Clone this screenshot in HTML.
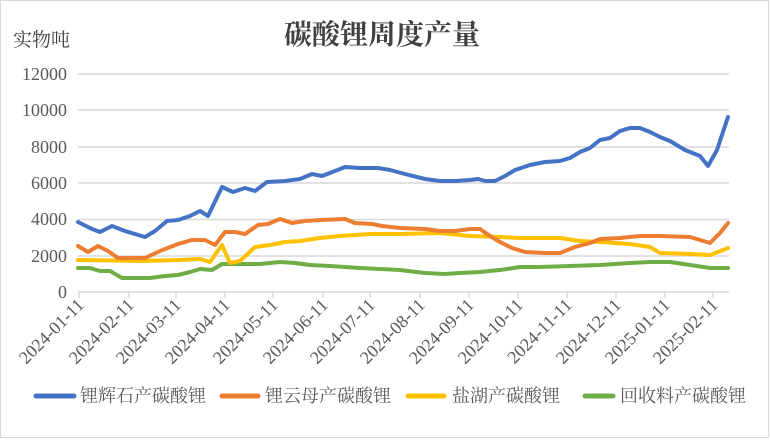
<!DOCTYPE html>
<html><head><meta charset="utf-8"><style>
body{margin:0;background:#fff;}
svg{display:block;font-family:"Liberation Serif","Noto Serif CJK SC",serif;}
</style></head><body>
<svg width="770" height="440" viewBox="0 0 770 440">
<rect x="0.5" y="0.5" width="768" height="437" fill="#fff" stroke="#d9d9d9"/>
<text x="382" y="44" text-anchor="middle" font-size="28" font-weight="bold" fill="#404040">碳酸锂周度产量</text>
<text x="13" y="46" font-size="19" fill="#404040">实物吨</text>
<g stroke="#d9d9d9" stroke-width="1.5">
<line x1="78" y1="74" x2="729" y2="74"/><line x1="78" y1="110" x2="729" y2="110"/>
<line x1="78" y1="147" x2="729" y2="147"/><line x1="78" y1="183" x2="729" y2="183"/>
<line x1="78" y1="219.5" x2="729" y2="219.5"/><line x1="78" y1="256" x2="729" y2="256"/>
<line x1="78" y1="292" x2="729" y2="292"/>
<line x1="79" y1="292" x2="79" y2="298"/><line x1="129" y1="292" x2="129" y2="298"/>
<line x1="176" y1="292" x2="176" y2="298"/><line x1="225" y1="292" x2="225" y2="298"/>
<line x1="273" y1="292" x2="273" y2="298"/><line x1="323" y1="292" x2="323" y2="298"/>
<line x1="370" y1="292" x2="370" y2="298"/><line x1="420" y1="292" x2="420" y2="298"/>
<line x1="469" y1="292" x2="469" y2="298"/><line x1="518" y1="292" x2="518" y2="298"/>
<line x1="567" y1="292" x2="567" y2="298"/><line x1="616" y1="292" x2="616" y2="298"/>
<line x1="665" y1="292" x2="665" y2="298"/><line x1="713" y1="292" x2="713" y2="298"/>
</g>
<g font-size="18" fill="#595959" text-anchor="end">
<text x="67" y="80">12000</text><text x="67" y="116">10000</text><text x="67" y="153">8000</text>
<text x="67" y="189">6000</text><text x="67" y="225">4000</text><text x="67" y="262">2000</text>
<text x="67" y="298">0</text>
</g>
<g font-size="18" fill="#595959" text-anchor="end">
<text transform="translate(85,306) rotate(-45)">2024-01-11</text>
<text transform="translate(135,306) rotate(-45)">2024-02-11</text>
<text transform="translate(182,306) rotate(-45)">2024-03-11</text>
<text transform="translate(231,306) rotate(-45)">2024-04-11</text>
<text transform="translate(279,306) rotate(-45)">2024-05-11</text>
<text transform="translate(329,306) rotate(-45)">2024-06-11</text>
<text transform="translate(376,306) rotate(-45)">2024-07-11</text>
<text transform="translate(426,306) rotate(-45)">2024-08-11</text>
<text transform="translate(475,306) rotate(-45)">2024-09-11</text>
<text transform="translate(524,306) rotate(-45)">2024-10-11</text>
<text transform="translate(573,306) rotate(-45)">2024-11-11</text>
<text transform="translate(622,306) rotate(-45)">2024-12-11</text>
<text transform="translate(671,306) rotate(-45)">2025-01-11</text>
<text transform="translate(719,306) rotate(-45)">2025-02-11</text>
</g>
<g fill="none" stroke-width="4" stroke-linejoin="round" stroke-linecap="round">
<polyline stroke="#70ad47" points="78,268 90,268 100,271 110,271 122,278 150,278 165,276 178,275 190,272 200,269 212,270 222,264 240,264 260,264 280,262 295,263 310,265 330,266 360,268 400,270 425,273 445,274 460,273 480,272 500,270 520,267 540,267 570,266 600,265 630,263 650,262 670,262 690,265 710,268 728,268"/>
<polyline stroke="#ffc000" points="78,260 140,261 180,260 200,259 210,262 222,245 230,263 240,261 255,247 270,245 285,242 300,241 320,238 340,236 370,234 400,234 440,233 470,236 500,237 520,238 560,238 580,241 600,242 630,244 650,247 660,253 690,254 710,255 728,248"/>
<polyline stroke="#ed7d31" points="78,246 88,252 98,246 108,251 118,258 145,258 160,251 178,244 192,240 205,240 215,245 225,232 235,232 245,234 258,225 268,224 280,219 292,223 305,221 320,220 345,219 355,223 372,224 382,226 400,228 425,229 440,231 455,231 470,229 480,229 490,236 500,242 512,248 525,252 545,253 560,253 575,247 590,243 600,239 620,238 640,236 660,236 690,237 710,243 720,233 728,223"/>
<polyline stroke="#4472c4" points="78,222 92,229 100,232 112,226 125,231 145,237 155,231 167,221 178,220 190,216 200,211 208,216 222,187 233,192 245,188 255,191 267,182 285,181 300,179 312,174 322,176 335,171 345,167 360,168 378,168 390,170 405,174 425,179 440,181 455,181 470,180 478,179 485,181 495,181 505,176 515,170 530,165 545,162 560,161 570,158 580,152 590,148 600,140 610,138 620,131 630,128 640,128 650,132 660,137 670,141 685,150 700,156 708,166 717,150 728,117"/>
</g>
<g stroke-width="5" stroke-linecap="round">
<line x1="36" y1="396" x2="74" y2="396" stroke="#4472c4"/>
<line x1="222" y1="396" x2="258" y2="396" stroke="#ed7d31"/>
<line x1="408" y1="396" x2="444" y2="396" stroke="#ffc000"/>
<line x1="585" y1="396" x2="613" y2="396" stroke="#70ad47"/>
</g>
<g font-size="18" fill="#595959">
<text x="80" y="402">锂辉石产碳酸锂</text>
<text x="265" y="402">锂云母产碳酸锂</text>
<text x="452" y="402">盐湖产碳酸锂</text>
<text x="620" y="402">回收料产碳酸锂</text>
</g>
</svg>
</body></html>
